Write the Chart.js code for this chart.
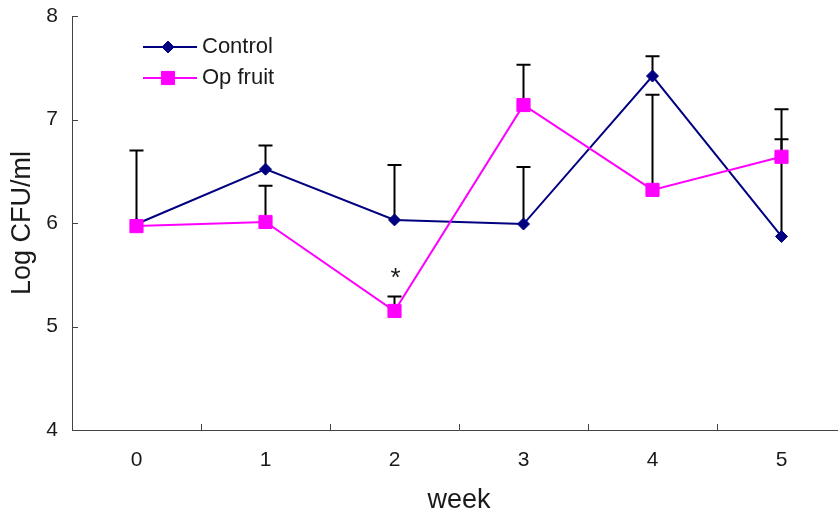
<!DOCTYPE html>
<html>
<head>
<meta charset="utf-8">
<script src="https://cdn.jsdelivr.net/npm/chart.js@4.4.1/dist/chart.umd.min.js"></script>
<style>
  html, body { margin: 0; padding: 0; background: #fff; overflow: hidden; }
  #wrap { width: 850px; height: 517px; }
</style>
</head>
<body>
<div id="wrap"><canvas id="myChart" width="850" height="517"></canvas></div>
<script>
// data
const weeks = ['0', '1', '2', '3', '4', '5'];
const control = [5.99, 6.52, 6.03, 5.99, 7.42, 5.87];
const controlTop = [6.70, 6.75, 6.56, 6.54, 7.61, 6.81]; // upper end of error bar
const opFruit = [5.97, 6.01, 5.15, 7.14, 6.32, 6.64];
const opFruitTop = [null, 6.36, 5.29, 7.53, 7.24, 7.10];
const starWeeks = [2]; // Op fruit points marked with *
const yTicks = [4, 5, 6, 7, 8];

const FONT = "'Liberation Sans', Arial, sans-serif";
const TEXT = '#1a1a1a';
const AXIS = '#444';

// error bars (upper only), drawn under the markers
const errorBars = {
    id: 'errorBars',
    beforeDatasetsDraw(chart) {
        const ctx = chart.ctx;
        const x = chart.scales.x, y = chart.scales.y;
        ctx.save();
        ctx.strokeStyle = '#000';
        ctx.lineWidth = 2;
        chart.data.datasets.forEach(ds => {
            ds.data.forEach((v, i) => {
                const top = ds.errTop[i];
                if (top == null) return;
                const px = x.getPixelForValue(i);
                const y0 = y.getPixelForValue(v), y1 = y.getPixelForValue(top);
                ctx.beginPath();
                ctx.moveTo(px, y0);
                ctx.lineTo(px, y1);
                ctx.moveTo(px - 7, y1);
                ctx.lineTo(px + 7, y1);
                ctx.stroke();
            });
        });
        ctx.restore();
    },
    afterDatasetsDraw(chart) {
        const ctx = chart.ctx;
        const x = chart.scales.x, y = chart.scales.y;
        ctx.save();
        ctx.fillStyle = TEXT;
        ctx.font = '26px ' + FONT;
        ctx.textAlign = 'center';
        ctx.textBaseline = 'alphabetic';
        starWeeks.forEach(i => {
            ctx.fillText('*', x.getPixelForValue(i) + 1, y.getPixelForValue(opFruitTop[i]) - 10);
        });
        ctx.restore();
    }
};

// inside tick marks on both axes
const tickMarks = {
    id: 'tickMarks',
    afterDraw(chart) {
        const ctx = chart.ctx;
        const x = chart.scales.x, y = chart.scales.y;
        const a = chart.chartArea;
        ctx.save();
        ctx.strokeStyle = AXIS;
        ctx.lineWidth = 1;
        ctx.beginPath();
        yTicks.forEach(t => {
            const py = Math.round(y.getPixelForValue(t)) + 0.5;
            ctx.moveTo(a.left, py);
            ctx.lineTo(a.left + 6, py);
        });
        for (let i = 1; i < weeks.length; i++) {
            const px = Math.round((x.getPixelForValue(i - 1) + x.getPixelForValue(i)) / 2) + 0.5;
            ctx.moveTo(px, a.bottom);
            ctx.lineTo(px, a.bottom - 6);
        }
        ctx.stroke();
        ctx.restore();
    }
};

// legend with line + marker samples
const lineLegend = {
    id: 'lineLegend',
    afterDraw(chart) {
        const ctx = chart.ctx;
        const rows = [chart.data.datasets[0], chart.data.datasets[1]];
        ctx.save();
        rows.forEach((ds, k) => {
            const yy = 47 + k * 31;
            ctx.strokeStyle = ds.borderColor;
            ctx.lineWidth = 2;
            ctx.beginPath();
            ctx.moveTo(143, yy);
            ctx.lineTo(197, yy);
            ctx.stroke();
            ctx.fillStyle = ds.pointBackgroundColor;
            ctx.strokeStyle = ds.pointBorderColor;
            ctx.lineWidth = ds.pointBorderWidth;
            Chart.helpers.drawPoint(ctx, {pointStyle: ds.pointStyle, radius: ds.pointRadius, borderWidth: ds.pointBorderWidth}, 168, yy);
            ctx.fillStyle = TEXT;
            ctx.font = '22px ' + FONT;
            ctx.textAlign = 'left';
            ctx.textBaseline = 'middle';
            ctx.fillText(ds.label, 202, yy);
        });
        ctx.restore();
    }
};

const ctx = document.getElementById('myChart').getContext('2d');
const myChart = new Chart(ctx, {
    type: 'line',
    data: {
        labels: weeks,
        datasets: [{
            label: 'Control',
            data: control,
            errTop: controlTop,
            borderColor: '#000080',
            backgroundColor: '#000080',
            borderWidth: 2,
            pointStyle: 'rectRot',
            pointRadius: 6,
            pointBorderWidth: 1,
            pointBackgroundColor: '#000080',
            pointBorderColor: '#000080',
            tension: 0,
            fill: false,
            order: 1
        }, {
            label: 'Op fruit',
            data: opFruit,
            errTop: opFruitTop,
            borderColor: '#ff00ff',
            backgroundColor: '#ff00ff',
            borderWidth: 2,
            pointStyle: 'rect',
            pointRadius: 9.3,
            pointBorderWidth: 1,
            pointBackgroundColor: '#ff00ff',
            pointBorderColor: '#ff00ff',
            tension: 0,
            fill: false,
            order: 0
        }]
    },
    options: {
        responsive: false,
        animation: false,
        events: [],
        layout: { autoPadding: false, padding: { left: 0, right: 4, top: 16, bottom: 0 } },
        plugins: {
            legend: { display: false },
            tooltip: { enabled: false }
        },
        scales: {
            x: {
                offset: true,
                grid: { display: true, drawOnChartArea: false, drawTicks: false, color: 'rgba(0,0,0,0)' },
                border: { display: true, color: AXIS, width: 1 },
                ticks: { color: TEXT, font: { family: FONT, size: 21 }, padding: 18, maxRotation: 0 },
                title: { display: true, text: 'week', color: TEXT, font: { family: FONT, size: 27 }, padding: 0 },
                afterFit: s => { s.height = 87; }
            },
            y: {
                min: 4,
                max: 8,
                afterBuildTicks: s => { s.ticks = yTicks.map(v => ({ value: v })); },
                grid: { display: true, drawOnChartArea: false, drawTicks: false, color: 'rgba(0,0,0,0)' },
                border: { display: true, color: AXIS, width: 1 },
                ticks: { color: TEXT, font: { family: FONT, size: 21 }, padding: 14 },
                title: { display: true, text: 'Log CFU/ml', color: TEXT, font: { family: FONT, size: 27 }, padding: { top: 6, bottom: 0 } },
                afterFit: s => { s.width = 72; s.paddingTop = 10; s.paddingBottom = 0; }
            }
        }
    },
    plugins: [errorBars, tickMarks, lineLegend]
});
</script>
</body>
</html>
